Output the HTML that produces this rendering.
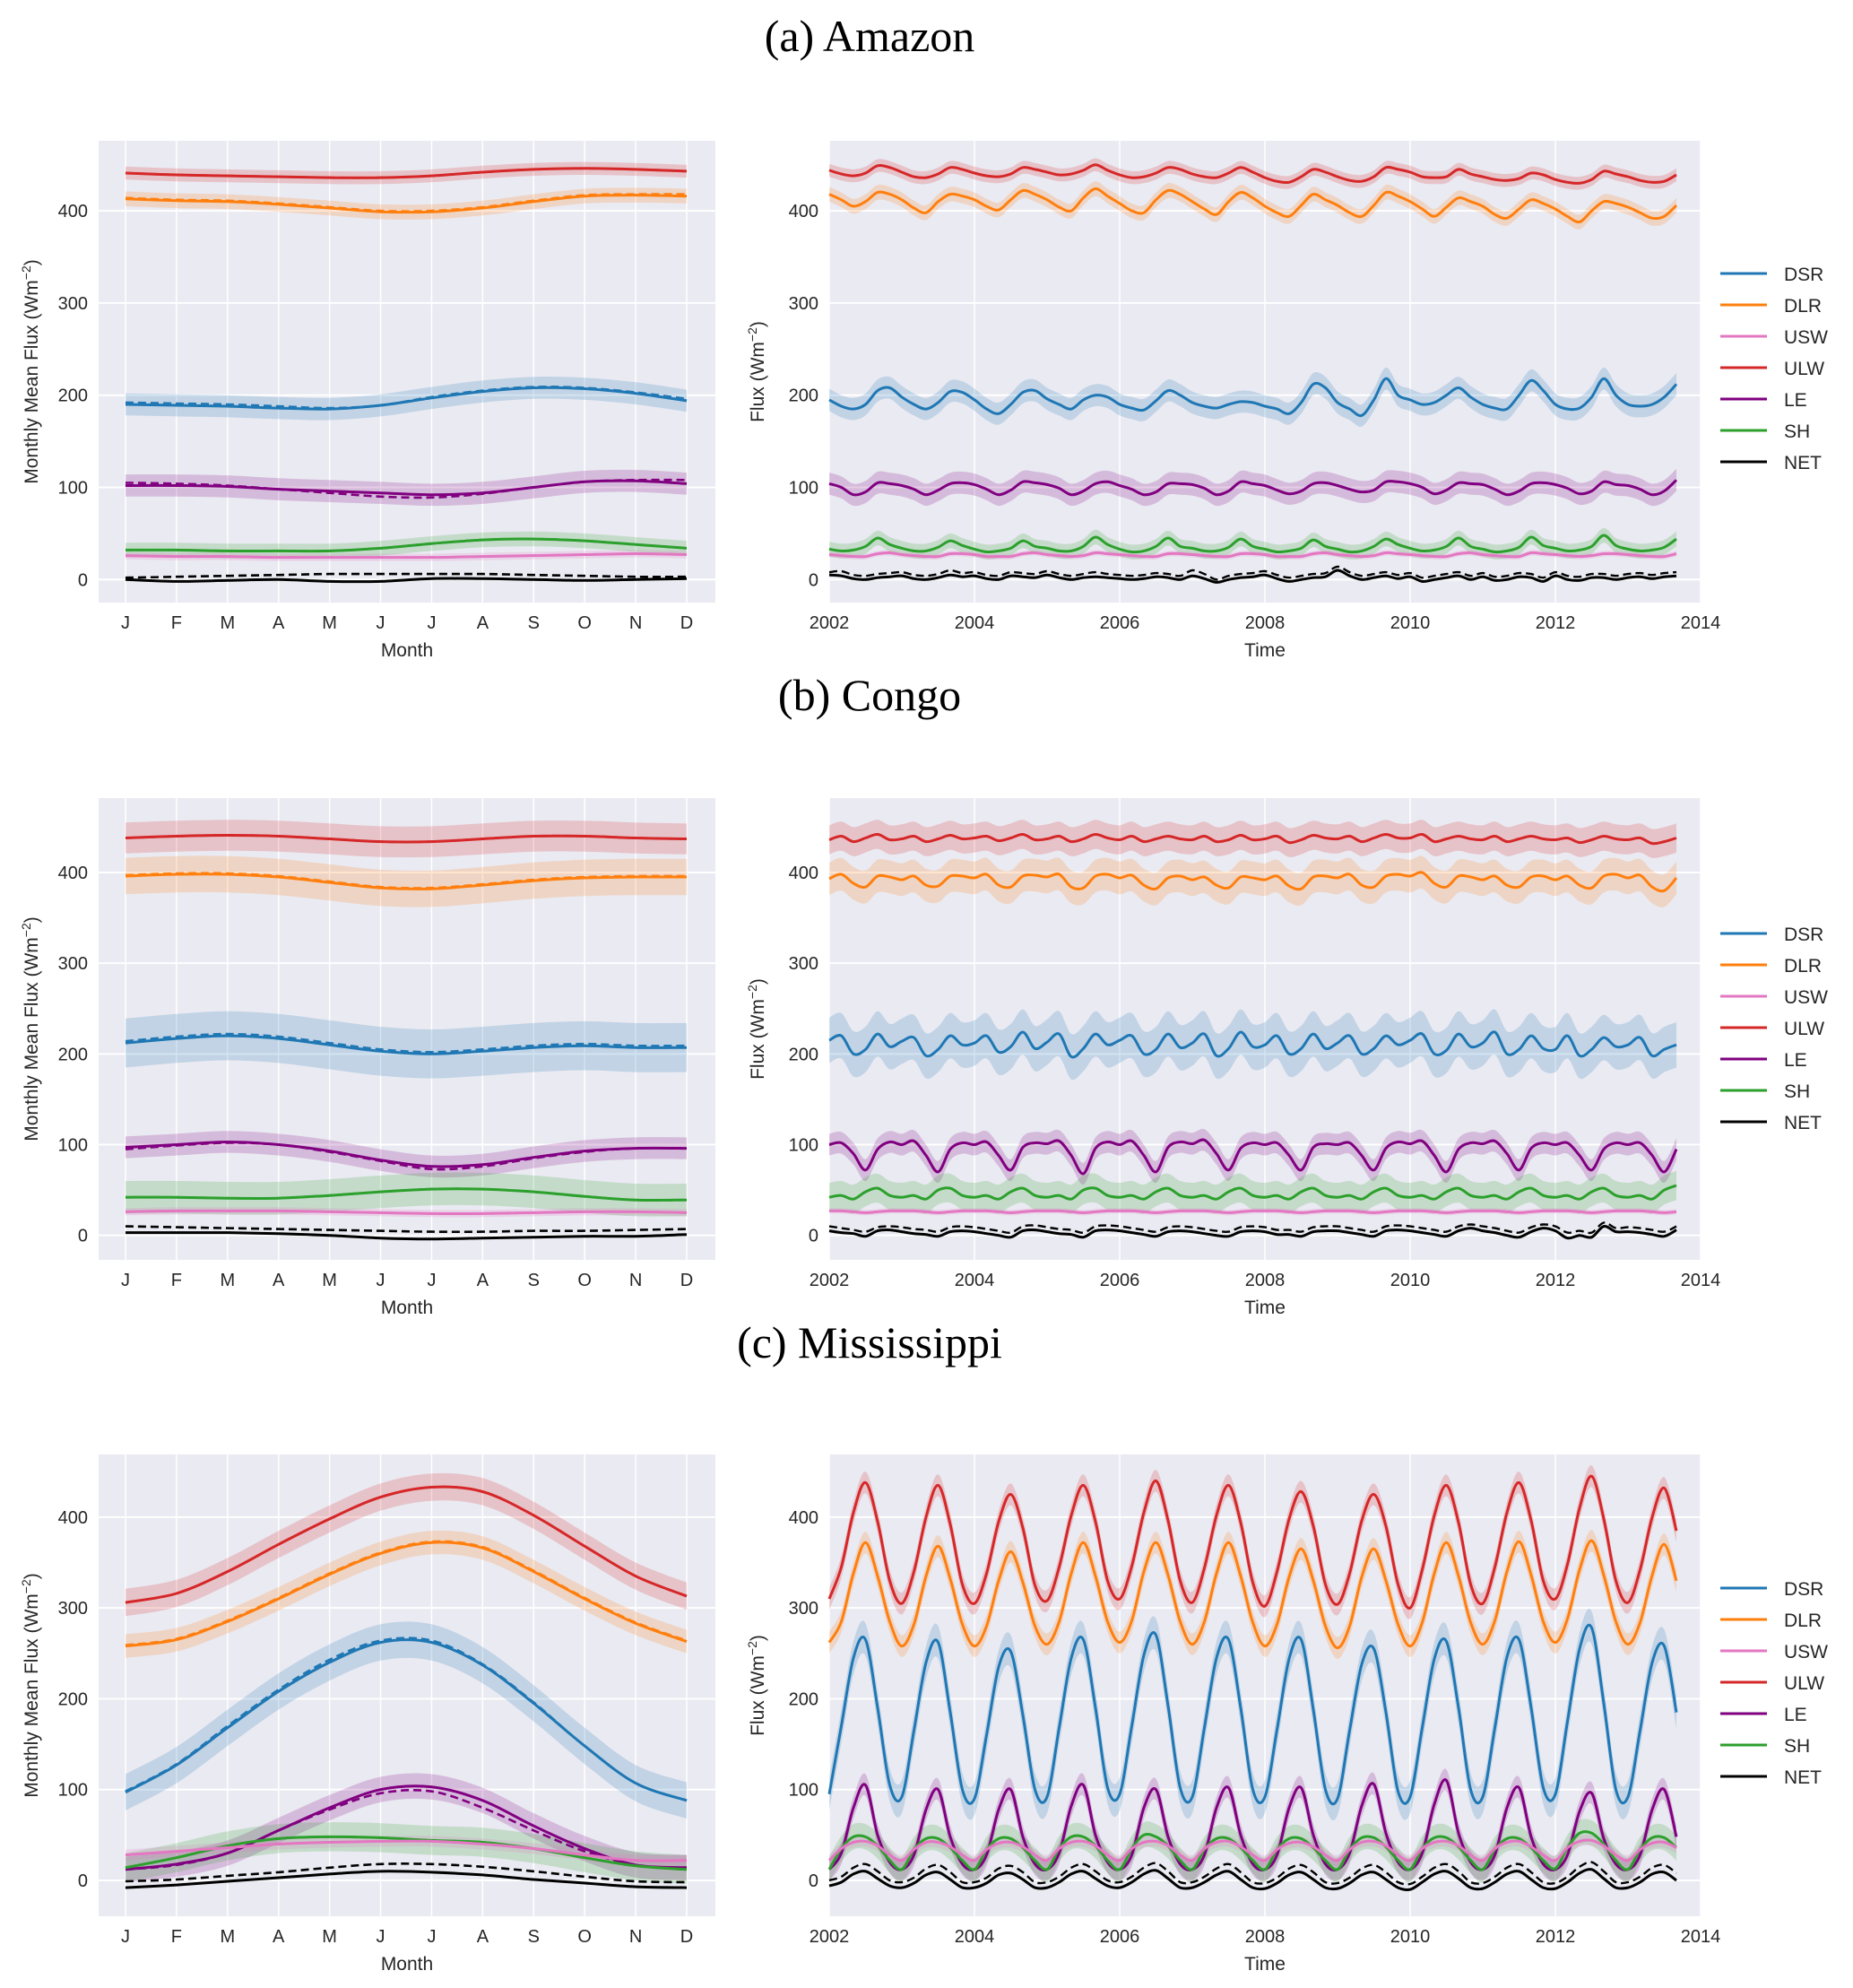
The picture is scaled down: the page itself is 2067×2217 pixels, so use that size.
<!DOCTYPE html>
<html><head><meta charset="utf-8">
<style>
html,body{margin:0;padding:0;background:#fff;}
svg{display:block;}
text{font-family:"Liberation Sans",sans-serif;fill:#262626;}
.title{font-family:"Liberation Serif",serif;font-size:50px;fill:#000;}
</style></head>
<body>
<svg id="fig" width="2067" height="2217" viewBox="0 0 2067 2217" xmlns="http://www.w3.org/2000/svg"></svg>
<script>
// ---------- categories ----------
const monthLabels = ["J","F","M","A","M","J","J","A","S","O","N","D"];
const yearTicks = [2002,2004,2006,2008,2010,2012,2014];
const fluxTicks = [0,100,200,300,400];
const seriesNames = ["DSR","DLR","USW","ULW","LE","SH","NET"];
const panelTitles = ["(a) Amazon","(b) Congo","(c) Mississippi"];

// ---------- Amazon monthly climatology ----------
const amzMonDSR = [190,189,188,186,185,189,197,204,208,207,202,194];
const amzMonDSRd = [192,191,190,188,186,189,198,205,209,208,203,196];
const amzMonDLR = [413,411,410,407,403,399,399,403,410,416,417,416];
const amzMonDLRd = [414,412,411,408,404,400,400,404,411,417,418,418];
const amzMonUSW = [26,25,25,24,24,24,24,25,26,27,28,27];
const amzMonULW = [441,439,438,437,436,436,438,442,445,446,445,443];
const amzMonLE = [102,102,101,98,96,94,92,94,100,106,107,104];
const amzMonLEd = [105,104,102,98,94,90,89,93,100,106,108,108];
const amzMonSH = [32,32,31,31,31,34,39,43,44,42,38,34];
const amzMonNET = [0,-2,-1,0,-2,-2,1,1,0,-1,0,1];
const amzMonNETd = [2,3,4,5,6,6,6,6,5,4,3,3];
const amzBand = [12,8,4,7,12,8,0];

// ---------- Congo monthly ----------
const cgoMonDSR = [212,217,220,217,210,203,200,203,207,209,207,207];
const cgoMonDSRd = [214,219,222,219,212,205,202,205,209,211,209,209];
const cgoMonDLR = [396,398,398,395,389,383,382,386,391,394,395,395];
const cgoMonDLRd = [397,399,399,396,390,384,383,387,392,395,396,396];
const cgoMonUSW = [26,27,27,27,26,25,24,24,25,26,26,25];
const cgoMonULW = [438,440,441,440,437,434,434,437,440,440,438,437];
const cgoMonLE = [97,100,103,100,93,83,76,78,86,93,96,96];
const cgoMonLEd = [95,99,102,100,92,82,73,76,85,92,96,96];
const cgoMonSH = [42,42,41,41,44,48,51,51,48,43,39,39];
const cgoMonNET = [3,3,3,2,0,-3,-4,-3,-2,-1,-1,1];
const cgoMonNETd = [10,9,8,7,6,5,4,4,5,5,6,7];
const cgoBand = [27,20,4,17,12,18,0];

// ---------- Mississippi monthly ----------
const misMonDSR = [97,127,168,208,240,262,262,237,195,148,107,88];
const misMonDSRd = [98,128,170,210,243,264,264,238,196,148,107,88];
const misMonDLR = [258,265,285,310,337,360,372,366,340,310,283,263];
const misMonDLRd = [259,266,286,311,338,361,373,367,341,311,284,264];
const misMonUSW = [28,32,36,40,42,43,43,40,35,28,22,22];
const misMonULW = [306,316,340,370,398,422,433,428,402,368,335,313];
const misMonLE = [12,18,30,55,80,100,103,88,60,35,17,14];
const misMonLEd = [12,17,30,55,78,96,98,80,55,32,17,12];
const misMonSH = [14,25,38,46,48,47,44,42,35,25,16,12];
const misMonNET = [-8,-5,-1,3,7,10,9,6,1,-3,-7,-8];
const misMonNETd = [-1,1,5,9,14,18,18,15,10,4,-1,-2];
const misBand = [20,13,6,15,14,16,0];

// ---------- Amazon time series (bi-monthly, Jan 2002 - Sep 2013) ----------
const amzTsDSR = [195,188,185,190,205,208, 198,190,185,192,204,203, 195,185,180,190,203,205, 196,190,185,195,200,198, 190,186,184,194,205,200, 192,188,186,190,193,192, 188,185,180,192,212,208, 192,185,178,195,218,200, 195,190,192,200,208,198, 190,186,185,200,216,205, 190,185,186,198,218,200, 190,188,190,198,212];
const amzTsDLR = [418,412,405,410,420,418, 412,403,398,410,418,416, 412,405,401,412,422,418, 412,404,400,414,424,416, 408,400,398,412,422,418, 410,402,396,410,420,414, 405,398,394,406,418,412, 406,398,394,406,420,416, 410,402,394,404,414,410, 405,396,392,402,412,408, 402,394,388,400,410,408, 404,398,392,394,406];
const amzTsUSW = [27,26,25,25,28,29, 27,26,25,25,28,28, 27,25,25,25,28,29, 27,26,25,26,29,28, 27,26,25,25,28,28, 27,26,25,25,28,28, 27,25,25,25,28,29, 27,26,25,26,29,28, 27,26,25,25,28,29, 27,26,25,25,29,28, 27,26,25,26,28,28, 27,26,25,25,28];
const amzTsULW = [444,440,438,441,449,447, 442,437,436,440,447,445, 441,438,437,440,447,445, 442,439,440,444,450,444, 439,436,437,441,447,445, 440,437,436,441,447,442, 436,432,431,437,445,442, 437,433,432,437,447,445, 442,437,436,437,445,440, 437,434,433,435,441,439, 434,431,430,434,443,440, 437,433,431,432,439];
const amzTsLE = [104,100,92,95,105,104, 102,98,92,97,104,105, 103,98,92,97,106,105, 103,99,92,96,104,106, 102,98,92,95,104,104, 103,99,92,96,106,104, 102,97,93,96,104,105, 102,98,95,97,106,106, 104,100,93,97,105,104, 103,98,92,96,104,105, 103,99,93,96,106,103, 102,98,92,96,108];
const amzTsSH = [33,31,32,36,45,38, 34,31,31,35,42,37, 33,30,31,34,42,36, 34,31,31,36,46,38, 33,30,31,36,45,36, 34,31,31,35,44,36, 33,30,31,34,43,36, 33,30,31,36,44,38, 34,31,32,36,45,36, 33,30,31,35,46,37, 34,31,32,36,48,37, 33,31,32,35,44];
const amzTsNET = [5,4,1,0,2,3, 4,1,0,2,5,3, 4,1,0,4,3,2, 5,2,0,2,3,2, 1,0,1,3,2,0, 4,1,-3,0,2,3, 5,1,-2,0,2,3, 10,4,0,2,4,1, 3,-2,0,2,4,0, 3,-1,0,3,2,-2, 4,0,-1,2,2,0, 2,3,1,3,4];
const amzTsNETd = [8,9,5,4,6,7, 8,5,4,6,10,7, 8,5,4,8,7,6, 9,6,4,6,8,6, 5,4,5,7,6,4, 10,6,0,4,6,7, 9,5,2,4,6,7, 14,8,4,6,8,5, 7,2,4,6,8,4, 7,3,4,7,6,2, 8,4,3,6,6,4, 6,7,5,7,8];

// ---------- Congo time series ----------
const cgoTsDSR = [215,220,200,205,222,208, 214,218,198,205,220,210, 212,220,202,208,224,206, 213,222,197,206,222,210, 215,220,200,205,222,207, 212,222,198,206,224,208, 210,220,200,206,222,206, 212,220,200,206,220,210, 215,222,200,204,222,208, 212,224,200,205,220,206, 205,220,198,205,218,208, 210,218,198,205,210];
const cgoTsDLR = [393,398,388,384,396,395, 392,396,386,385,396,396, 394,398,386,384,396,397, 395,398,384,383,396,398, 394,397,386,382,394,396, 392,395,386,383,395,394, 392,396,385,382,395,396, 394,398,386,384,396,398, 396,400,388,384,396,395, 392,396,386,384,395,396, 392,396,386,383,396,398, 394,397,384,380,394];
const cgoTsUSW = [27,27,26,25,26,27, 27,27,26,25,26,27, 27,27,26,25,26,27, 27,27,26,25,26,27, 27,27,26,25,26,27, 27,27,26,25,26,27, 27,27,26,25,26,27, 27,27,26,25,26,27, 27,27,26,25,26,27, 27,27,26,25,26,27, 27,27,26,25,26,27, 27,27,26,25,26];
const cgoTsULW = [436,440,434,438,442,436, 437,440,434,437,441,437, 438,440,435,438,442,436, 437,440,434,437,442,438, 436,440,434,437,440,437, 436,440,434,436,441,436, 437,440,433,436,441,438, 437,440,434,438,442,438, 438,442,434,437,440,437, 436,440,434,437,440,437, 436,438,433,436,440,437, 436,438,432,434,438];
const cgoTsLE = [100,102,90,72,95,103, 100,104,88,70,95,102, 100,103,88,72,97,102, 101,104,88,68,96,103, 100,104,88,70,97,103, 101,105,90,72,96,102, 100,102,88,72,97,101, 100,102,88,72,96,103, 101,104,88,70,95,102, 101,104,90,72,96,102, 100,102,88,72,95,102, 100,102,88,70,95];
const cgoTsSH = [42,44,40,48,52,44, 42,44,40,50,52,44, 42,44,40,48,52,44, 42,44,40,50,52,44, 42,44,40,48,52,44, 42,44,40,48,52,44, 42,44,40,48,52,44, 42,44,40,48,52,44, 42,44,40,48,52,44, 42,44,40,48,52,44, 42,44,40,48,52,44, 42,44,40,50,55];
const cgoTsNET = [5,3,2,-1,5,6, 4,2,1,-1,4,5, 4,2,0,-2,5,6, 4,2,1,-2,5,6, 5,3,1,-1,4,5, 4,2,0,-1,4,5, 4,1,1,-1,4,5, 5,3,1,-1,5,6, 5,3,1,-1,5,8, 5,3,0,-2,4,8, 5,-3,0,-2,10,4, 4,3,1,-1,6];
const cgoTsNETd = [10,8,6,4,9,10, 9,7,6,4,9,10, 9,7,5,3,10,11, 9,7,6,3,10,11, 10,8,6,4,9,10, 9,7,5,4,9,10, 9,6,6,4,9,10, 10,8,6,4,10,11, 10,8,6,4,10,12, 10,8,5,3,9,12, 10,3,5,3,14,8, 9,8,6,4,10];

// ---------- Mississippi time series ----------
const misTsDSR = [95,170,245,265,190,105, 92,165,240,262,185,100, 90,160,235,252,182,100, 92,168,245,265,190,102, 95,170,248,270,192,102, 92,168,245,265,190,100, 92,166,244,265,188,100, 90,165,238,255,185,98, 92,168,244,263,190,100, 92,168,246,265,190,102, 95,175,255,278,195,100, 92,165,240,258,185];
const misTsDLR = [262,285,338,372,335,285, 258,282,335,368,332,282, 258,280,330,362,328,280, 260,285,338,372,335,285, 262,286,340,372,336,285, 260,285,338,372,335,284, 258,282,334,365,330,280, 256,280,334,365,330,282, 258,284,338,372,335,284, 260,286,340,373,336,285, 262,288,342,374,336,285, 260,284,336,370,330];
const misTsUSW = [22,35,42,43,38,28, 22,34,42,42,37,28, 22,34,41,42,37,28, 22,35,42,43,38,28, 22,35,42,43,38,28, 22,35,42,43,37,28, 22,34,41,42,37,28, 22,34,42,43,38,28, 22,35,42,43,38,28, 22,35,42,43,37,28, 22,36,43,44,38,28, 22,34,41,42,36];
const misTsULW = [310,345,405,438,395,330, 305,340,400,435,392,326, 305,338,395,425,388,325, 308,345,402,435,395,330, 310,346,405,440,396,330, 306,344,402,435,394,328, 302,340,398,428,390,326, 304,338,396,425,390,326, 300,342,402,435,394,326, 305,345,405,438,396,330, 310,348,410,445,398,330, 306,342,400,432,385];
const misTsLE = [12,30,80,105,50,20, 12,28,78,100,48,18, 12,28,78,100,48,18, 12,30,82,105,50,20, 12,28,80,100,48,18, 12,28,80,102,50,18, 12,28,80,102,50,18, 12,30,82,106,52,20, 12,30,84,110,52,20, 12,28,80,102,48,18, 12,28,76,96,46,18, 12,28,78,100,48];
const misTsSH = [12,35,48,48,38,22, 12,34,46,46,36,22, 12,34,46,46,36,22, 12,35,48,48,38,22, 12,35,50,48,38,22, 12,34,46,46,36,22, 12,34,46,46,36,22, 12,34,47,47,37,22, 12,35,47,47,37,22, 12,34,46,46,36,22, 13,36,52,52,40,22, 12,34,47,47,36];
const misTsNET = [-6,-2,7,10,2,-6, -8,-3,6,9,1,-8, -8,-3,6,8,1,-8, -8,-2,7,10,2,-6, -8,-2,7,11,2,-8, -8,-2,6,10,1,-8, -9,-3,6,9,1,-8, -9,-3,6,9,1,-8, -10,-2,7,10,2,-8, -9,-2,7,10,1,-8, -9,-2,8,12,2,-8, -8,-2,7,9,0];
const misTsNETd = [0,4,14,18,10,0, -2,3,13,17,9,-2, -2,3,13,16,9,-2, -2,4,14,18,10,0, -2,4,14,19,10,-2, -2,4,13,18,9,-2, -3,3,13,17,9,-2, -3,3,13,17,9,-2, -4,4,14,18,10,-2, -3,4,14,18,9,-2, -3,4,15,20,10,-2, -2,4,14,17,8];
const tsBandAmz = [12,8,3,7,12,8,0];
const tsBandCgo = [25,18,3,16,12,16,0];
const tsBandMis = [18,12,6,12,12,14,0];

// ---------- styling/layout ----------
const colors = {DSR:"#1f77b4",DLR:"#ff7f0e",USW:"#e377c2",ULW:"#d62728",LE:"#800080",SH:"#2ca02c",NET:"#000000"};
const drawOrder = ["ULW","DLR","DSR","LE","SH","USW","NET"];
const NS = "http://www.w3.org/2000/svg";
const svg = document.getElementById("fig");

const panels = [
  {title:panelTitles[0], titleY:40, T:157, B:672, ymin:-25, ymax:476, legY:305,
   mon:{DSR:[amzMonDSR,amzMonDSRd],DLR:[amzMonDLR,amzMonDLRd],USW:[amzMonUSW,amzMonUSW],ULW:[amzMonULW,amzMonULW],LE:[amzMonLE,amzMonLEd],SH:[amzMonSH,amzMonSH],NET:[amzMonNET,amzMonNETd]},
   band:amzBand, tsBand:tsBandAmz,
   ts:{DSR:amzTsDSR,DLR:amzTsDLR,USW:amzTsUSW,ULW:amzTsULW,LE:amzTsLE,SH:amzTsSH,NET:amzTsNET}, tsd:amzTsNETd, key:"amazon"},
  {title:panelTitles[1], titleY:775, T:890, B:1405, ymin:-27, ymax:482, legY:1041,
   mon:{DSR:[cgoMonDSR,cgoMonDSRd],DLR:[cgoMonDLR,cgoMonDLRd],USW:[cgoMonUSW,cgoMonUSW],ULW:[cgoMonULW,cgoMonULW],LE:[cgoMonLE,cgoMonLEd],SH:[cgoMonSH,cgoMonSH],NET:[cgoMonNET,cgoMonNETd]},
   band:cgoBand, tsBand:tsBandCgo,
   ts:{DSR:cgoTsDSR,DLR:cgoTsDLR,USW:cgoTsUSW,ULW:cgoTsULW,LE:cgoTsLE,SH:cgoTsSH,NET:cgoTsNET}, tsd:cgoTsNETd, key:"congo"},
  {title:panelTitles[2], titleY:1497, T:1622, B:2137, ymin:-39.5, ymax:469, legY:1771,
   mon:{DSR:[misMonDSR,misMonDSRd],DLR:[misMonDLR,misMonDLRd],USW:[misMonUSW,misMonUSW],ULW:[misMonULW,misMonULW],LE:[misMonLE,misMonLEd],SH:[misMonSH,misMonSH],NET:[misMonNET,misMonNETd]},
   band:misBand, tsBand:tsBandMis,
   ts:{DSR:misTsDSR,DLR:misTsDLR,USW:misTsUSW,ULW:misTsULW,LE:misTsLE,SH:misTsSH,NET:misTsNET}, tsd:misTsNETd, key:"mississippi"}
];

function el(tag, attrs, parent){
  const e = document.createElementNS(NS, tag);
  for (const k in attrs) e.setAttribute(k, attrs[k]);
  (parent||svg).appendChild(e);
  return e;
}
function spline(pts){
  if (pts.length<2) return "";
  let d = "M"+pts[0][0].toFixed(1)+","+pts[0][1].toFixed(1);
  for (let i=0;i<pts.length-1;i++){
    const p0=pts[Math.max(0,i-1)], p1=pts[i], p2=pts[i+1], p3=pts[Math.min(pts.length-1,i+2)];
    const c1=[p1[0]+(p2[0]-p0[0])/6, p1[1]+(p2[1]-p0[1])/6];
    const c2=[p2[0]-(p3[0]-p1[0])/6, p2[1]-(p3[1]-p1[1])/6];
    d += "C"+c1[0].toFixed(1)+","+c1[1].toFixed(1)+" "+c2[0].toFixed(1)+","+c2[1].toFixed(1)+" "+p2[0].toFixed(1)+","+p2[1].toFixed(1);
  }
  return d;
}
function bandPath(xs, vals, w, yf){
  const up = xs.map((x,i)=>[x, yf(vals[i]+w)]);
  const dn = xs.map((x,i)=>[x, yf(vals[i]-w)]).reverse();
  const a = spline(up), b = spline(dn);
  return a + "L" + b.slice(1) + "Z";
}

const LX0=110, LX1=798, MX0=140, MX1=766;
const RX0=925, RX1=1897;

panels.forEach((p, pi)=>{
  const yf = v => p.B - (v - p.ymin)/(p.ymax - p.ymin)*(p.B - p.T);
  const mx = i => MX0 + i*(MX1-MX0)/11;
  const tx = t => RX0 + (t-2002)/12*(RX1-RX0);

  const t = el("text",{x:970,y:p.titleY+17,"text-anchor":"middle","class":"title"});
  t.textContent = p.title;
  
  

  // ---- left axes ----
  const gL = el("g",{});
  
  
  el("rect",{x:LX0,y:p.T,width:LX1-LX0,height:p.B-p.T,fill:"#eaeaf2"},gL);
  monthLabels.forEach((m,i)=>{
    el("line",{x1:mx(i),x2:mx(i),y1:p.T,y2:p.B,stroke:"#fff","stroke-width":1.5},gL);
    const lb = el("text",{x:mx(i),y:p.B+29,"text-anchor":"middle","font-size":20},gL);
    lb.textContent = m;
    
    
  });
  fluxTicks.forEach(v=>{
    el("line",{x1:LX0,x2:LX1,y1:yf(v),y2:yf(v),stroke:"#fff","stroke-width":2},gL);
    const lb = el("text",{x:LX0-12,y:yf(v)+7,"text-anchor":"end","font-size":20},gL);
    lb.textContent = v;
    
    
  });
  const xl = el("text",{x:(LX0+LX1)/2,y:p.B+60,"text-anchor":"middle","font-size":21},gL);
  xl.textContent = "Month";
  
  
  const yl = el("text",{x:0,y:0,"text-anchor":"middle","font-size":21,transform:"translate(42,"+((p.T+p.B)/2)+") rotate(-90)"},gL);
  yl.innerHTML = 'Monthly Mean Flux (Wm<tspan dy="-8" font-size="14">−2</tspan><tspan dy="8">)</tspan>';
  
  

  const xsM = monthLabels.map((m,i)=>mx(i));
  drawOrder.forEach(s=>{
    const si = seriesNames.indexOf(s);
    const w = p.band[si];
    if (w>0){
      const b = el("path",{d:bandPath(xsM,p.mon[s][0],w,yf),fill:colors[s],"fill-opacity":0.2,stroke:"none"},gL);
      
      
    }
  });
  drawOrder.forEach(s=>{
    const d2 = el("path",{d:spline(xsM.map((x,i)=>[x,yf(p.mon[s][1][i])])),fill:"none",stroke:colors[s],"stroke-width":2.6,"stroke-dasharray":"9,5"},gL);
    
    
    const l = el("path",{d:spline(xsM.map((x,i)=>[x,yf(p.mon[s][0][i])])),fill:"none",stroke:colors[s],"stroke-width":3},gL);
    
    
  });

  // ---- right axes ----
  const gR = el("g",{});
  
  
  el("rect",{x:RX0,y:p.T,width:RX1-RX0,height:p.B-p.T,fill:"#eaeaf2"},gR);
  yearTicks.forEach(yv=>{
    el("line",{x1:tx(yv),x2:tx(yv),y1:p.T,y2:p.B,stroke:"#fff","stroke-width":1.5},gR);
    const lb = el("text",{x:tx(yv),y:p.B+29,"text-anchor":"middle","font-size":20},gR);
    lb.textContent = yv;
    
    
  });
  fluxTicks.forEach(v=>{
    el("line",{x1:RX0,x2:RX1,y1:yf(v),y2:yf(v),stroke:"#fff","stroke-width":2},gR);
    const lb = el("text",{x:RX0-12,y:yf(v)+7,"text-anchor":"end","font-size":20},gR);
    lb.textContent = v;
    
    
  });
  const xl2 = el("text",{x:(RX0+RX1)/2,y:p.B+60,"text-anchor":"middle","font-size":21},gR);
  xl2.textContent = "Time";
  
  
  const yl2 = el("text",{x:0,y:0,"text-anchor":"middle","font-size":21,transform:"translate(852,"+((p.T+p.B)/2)+") rotate(-90)"},gR);
  yl2.innerHTML = 'Flux (Wm<tspan dy="-8" font-size="14">−2</tspan><tspan dy="8">)</tspan>';
  
  

  const xsT = p.ts.DSR.map((v,i)=>tx(2002 + i*2/12));
  drawOrder.forEach(s=>{
    const si = seriesNames.indexOf(s);
    const w = p.tsBand[si];
    if (w>0){
      const b = el("path",{d:bandPath(xsT,p.ts[s],w,yf),fill:colors[s],"fill-opacity":0.2,stroke:"none"},gR);
      
      
    }
  });
  const nd = el("path",{d:spline(xsT.map((x,i)=>[x,yf(p.tsd[i])])),fill:"none",stroke:"#000","stroke-width":2.4,"stroke-dasharray":"9,5"},gR);
  
  
  drawOrder.forEach(s=>{
    const l = el("path",{d:spline(xsT.map((x,i)=>[x,yf(p.ts[s][i])])),fill:"none",stroke:colors[s],"stroke-width":3},gR);
    
    
  });

  // ---- legend ----
  const gLeg = el("g",{});
  
  
  seriesNames.forEach((s,i)=>{
    const y = p.legY + i*35;
    const ln = el("line",{x1:1919,x2:1971,y1:y,y2:y,stroke:colors[s],"stroke-width":3},gLeg);
    
    
    const tx2 = el("text",{x:1990,y:y+8,"font-size":21},gLeg);
    tx2.textContent = s;
    
    
  });
});
</script>
</body></html>
